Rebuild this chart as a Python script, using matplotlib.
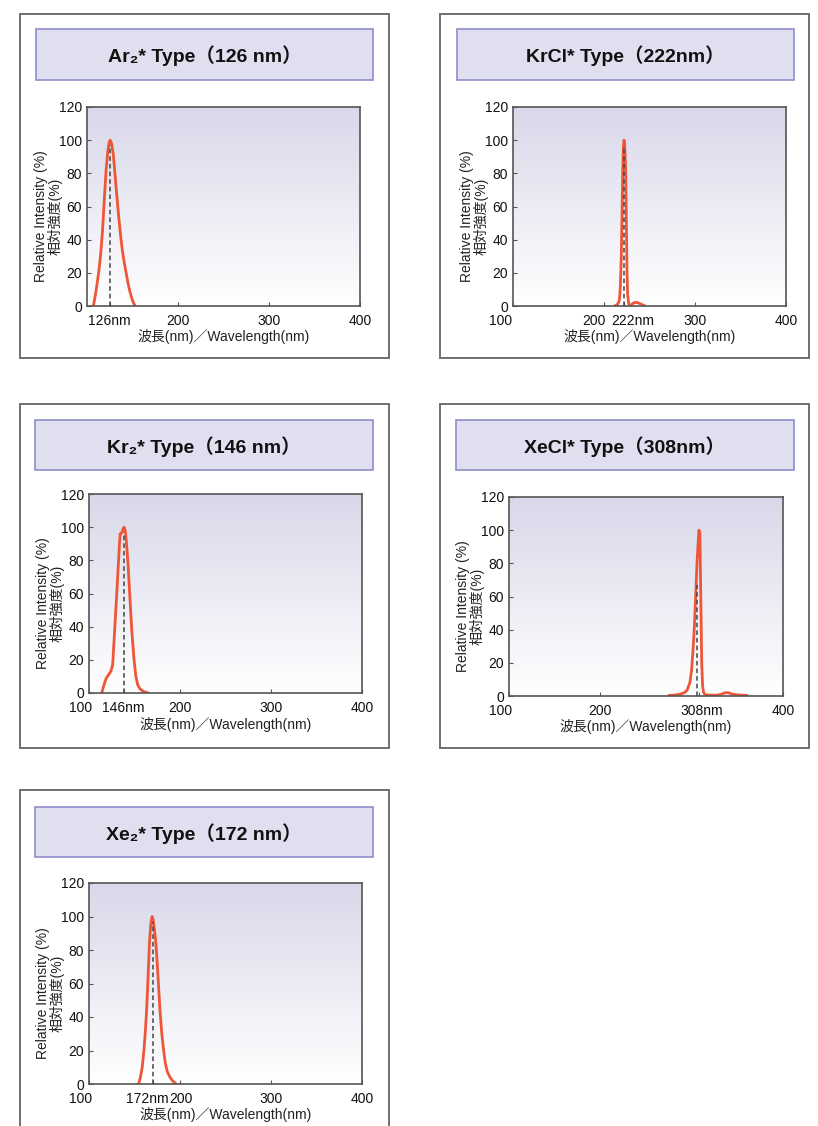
import matplotlib
matplotlib.use("Agg")
import matplotlib.pyplot as plt
from matplotlib.patches import Rectangle
from matplotlib.colors import LinearSegmentedColormap
from matplotlib.transforms import ScaledTranslation
import numpy as np

W, H = 818, 1126
plt.rcParams['font.family'] = ['Liberation Sans', 'Noto Sans CJK JP', 'DejaVu Sans']

### Daten
ar2_wl = [107, 109, 111, 113, 115, 117, 119, 121, 123, 124.5, 125.5, 127, 129, 131, 133,
          135, 137, 139, 141, 143, 145, 147, 149, 151, 153]
ar2_int = [0, 6, 13, 21, 31, 45, 64, 82, 94, 99, 100, 98, 91, 78, 65,
           53, 42, 33, 26, 20, 14, 9, 5, 2, 0]

krcl_wl = [211, 214, 216, 217, 218, 219, 219.8, 220.6, 221.3, 222, 222.6, 223.2, 223.9, 224.6,
           225.3, 226, 227, 228, 229.5, 231.5, 234, 237, 240, 243, 245.5]
krcl_int = [0, 0.5, 2, 4, 12, 30, 55, 82, 96, 100, 98, 92, 80, 50,
            20, 7, 2, 0.3, 0.2, 1.5, 2.2, 2, 1.3, 0.5, 0]

kr2_wl = [114, 116.5, 119, 121.5, 124, 126, 128, 130, 132, 133.5, 134.3, 135.2, 136.2, 137.5,
          138.6, 139.8, 141, 143, 145, 147, 149.5, 151.5, 153.5, 156, 159, 162, 165.5]
kr2_int = [0, 5, 9, 11, 13, 17, 36, 55, 75, 90, 96, 96, 97, 99,
           100, 98, 92, 77, 57, 38, 20, 10, 5, 2.5, 1.2, 0.5, 0]

xecl_wl = [274, 280, 287, 292, 295, 298, 300, 301.5, 303, 304.5, 306, 307.5, 308, 309, 310,
           311, 312, 313, 315, 320, 328, 333, 337, 340, 344, 350, 356, 362]
xecl_int = [0.3, 0.5, 1, 2, 3.5, 8, 16, 28, 42, 62, 82, 96, 100, 98, 60,
            20, 6, 2, 0.8, 0.5, 0.5, 1.2, 2, 2, 1.2, 0.7, 0.5, 0.3]

xe2_wl = [154.5, 156.5, 158.5, 160.5, 162, 163.5, 165, 166.5, 168, 169.3, 170.5, 172, 173.5,
          175, 176.5, 178, 180, 182, 184, 186, 188.5, 191, 193.5, 196]
xe2_int = [0, 4, 10, 21, 32, 46, 65, 85, 96, 100, 98, 92, 84,
           72, 58, 44, 30, 20, 12, 7.5, 4.5, 2.5, 1, 0]

titles = ["Ar₂* Type（126 nm）", "KrCl* Type（222nm）", "Kr₂* Type（146 nm）",
          "XeCl* Type（308nm）", "Xe₂* Type（172 nm）"]
peak_pos = [125, 222, 138, 306, 170.5]
peak_top = [97, 95, 97, 67, 97]
xticks = [[125, 200, 300, 400], [100, 200, 222, 300, 400], [100, 138, 200, 300, 400],
          [100, 200, 308, 400], [100, 170.5, 200, 300, 400]]
xticklabels = [["126nm", "200", "300", "400"], ["100", "200", "222nm", "300", "400"],
               ["100", "146nm", "200", "300", "400"], ["100", "200", "308nm", "400"],
               ["100", "172nm", "200", "300", "400"]]
yticks = [0, 20, 40, 60, 80, 100, 120]

spectra = [(ar2_wl, ar2_int), (krcl_wl, krcl_int), (kr2_wl, kr2_int),
           (xecl_wl, xecl_int), (xe2_wl, xe2_int)]

# Pixel-Layout: Rahmen, Titelbox, Achsen (links, oben, rechts, unten)
frames = [(20, 14, 389, 358), (440, 14, 809, 358), (20, 404, 389, 748),
          (440, 404, 809, 748), (20, 790, 389, 1140)]
title_boxes = [(36, 29, 373, 80), (457, 29, 794, 80), (35, 420, 373, 470),
               (456, 420, 794, 470), (35, 807, 373, 857)]
axes_px = [(87, 107, 360, 306), (513, 107, 786, 306), (89, 494, 362, 693),
           (509, 497, 783, 696), (89, 883, 362, 1084)]
# Verschiebung einzelner Tick-Beschriftungen in Pixel
label_shift = [{}, {0: -12, 1: -10, 2: 9}, {0: -8}, {0: -8, 2: 3}, {0: -8, 1: -6, 2: 1}]

bg_cmap = LinearSegmentedColormap.from_list("bg", ["#ffffff", "#d8d8ea"])
red = "#ef5638"


def rect(x0, y0, x1, y1):
    return (x0 / W, 1 - y1 / H, (x1 - x0) / W, (y1 - y0) / H)


fig = plt.figure(figsize=(W / 100, H / 100), dpi=100)

for i in range(5):
    l, b, w, h = rect(*frames[i])
    fig.add_artist(Rectangle((l, b), w, h, transform=fig.transFigure, facecolor="white",
                             edgecolor="#707070", lw=1.4, zorder=0))
    l, b, w, h = rect(*title_boxes[i])
    fig.add_artist(Rectangle((l, b), w, h, transform=fig.transFigure, facecolor="#e0dff0",
                             edgecolor="#8e8ecb", lw=1.2, zorder=1))
    fig.text(l + w / 2, b + h / 2 - 1.5 / H, titles[i], ha="center", va="center",
             fontsize=14, fontweight="bold", color="#111111")

    ax = fig.add_axes(rect(*axes_px[i]))
    ax.imshow(np.linspace(1, 0, 256).reshape(-1, 1), cmap=bg_cmap, extent=[0, 1, 0, 1],
              transform=ax.transAxes, aspect="auto", zorder=0)
    wl, inten = spectra[i]
    ax.plot([peak_pos[i], peak_pos[i]], [0, peak_top[i]], color="#444444", lw=1.1,
            dashes=(3, 2), zorder=3)
    ax.plot(wl, inten, color=red, lw=2, zorder=2, solid_capstyle="butt")
    ax.set_xlim(100, 400)
    ax.set_ylim(0, 120)
    ax.set_xticks(xticks[i])
    ax.set_xticklabels(xticklabels[i])
    ax.set_yticks(yticks)
    ax.tick_params(direction="in", length=3, width=0.8, color="#555555",
                   labelsize=10, labelcolor="#111111", pad=3.5)
    ax.tick_params(axis="x", pad=6)
    for s in ax.spines.values():
        s.set_color("#555555")
        s.set_linewidth(1.2)
    for k, dx in label_shift[i].items():
        lbl = ax.get_xticklabels()[k]
        lbl.set_transform(lbl.get_transform() + ScaledTranslation(dx / 100, 0, fig.dpi_scale_trans))

    x0, y0, x1, y1 = axes_px[i]
    yc = (y0 + y1) / 2 + 10
    fig.text((x0 - 46) / W, 1 - yc / H, "Relative Intensity (%)", rotation=90,
             ha="center", va="center", fontsize=10, color="#222222")
    fig.text((x0 - 32) / W, 1 - yc / H, "相対強度(%)", rotation=90,
             ha="center", va="center", fontsize=10, color="#222222")
    fig.text((x0 + x1) / 2 / W, 1 - (y1 + 31) / H, "波長(nm)／Wavelength(nm)",
             ha="center", va="center", fontsize=10, color="#222222")

plt.savefig("out.png", dpi=100)
plt.close()
